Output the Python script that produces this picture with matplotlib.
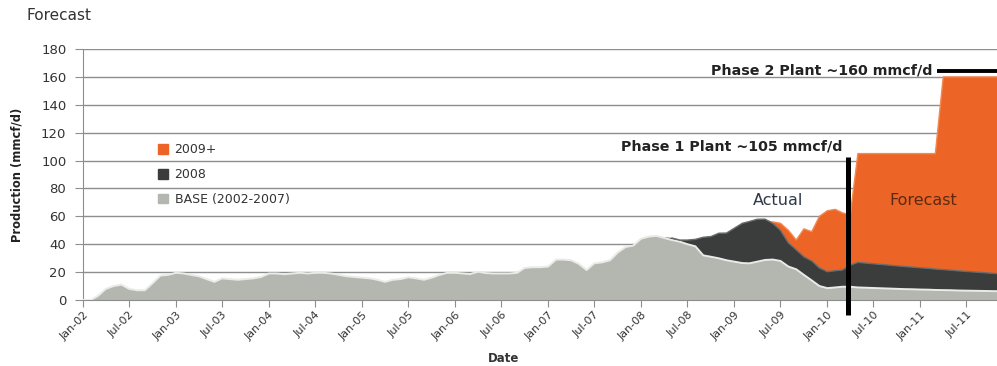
import numpy as np
import pandas as pd
import matplotlib
matplotlib.use("Agg")
import matplotlib.pyplot as plt
import matplotlib.dates as mdates
from matplotlib.patches import Patch

# monthly values, Jan-02 .. Dec-11 (mmcf/d)
base = [0, 0, 3, 8, 10, 11, 8, 7, 7, 12, 17.5, 18,
        19.5, 19, 18, 17, 15, 13, 15.5, 15, 14.5, 15, 15.5, 16.5,
        19, 19, 18.5, 19, 19.5, 19, 19.5, 19.5, 19, 18, 17, 16.5,
        16, 15.5, 14.5, 13, 14.5, 15, 16.3, 15.5, 14.5, 16, 18, 19.5,
        19.5, 19, 18.6, 20.3, 19.3, 19, 19, 19, 19.5, 23, 23.5, 23.5,
        24, 29, 29, 28.5, 26, 21.5, 26.3, 27, 28.5, 34, 38, 39,
        44, 45.5, 46, 44.5, 43, 41.8, 40, 38.5, 32, 31, 29.9, 28.5,
        27.5, 26.5, 26.3, 27.5, 28.7, 29, 28, 24, 22, 18, 14, 10,
        8.5, 9, 9.5, 9.5, 9.0, 8.8, 8.6, 8.4, 8.2, 8.0, 7.8, 7.7,
        7.5, 7.4, 7.2, 7.1, 7.0, 6.8, 6.7, 6.6, 6.5, 6.4, 6.3, 6.2]

wells_2008 = [0] * 75 + [
    0.5, 1.5, 1.2, 3, 5, 13, 14.5, 18, 19.5,
    24, 28.5, 30, 30.4, 29.3, 26, 22, 17, 14, 13, 14, 13,
    11.8, 12, 12, 15.5, 18, 17.7, 17.4, 17.1, 16.8, 16.5, 16.2, 15.9,
    15.6, 15.3, 15.0, 14.7, 14.4, 14.1, 13.8, 13.5, 13.2, 12.9, 12.6, 12.3]

wells_2009 = [0] * 89 + [
    1, 5, 9, 7, 20, 21, 37,
    43.7, 44, 41, 36, 78.0, 78.5, 79.0, 79.5, 80.0, 80.5, 81.0, 81.4,
    81.9, 82.3, 82.8, 138.2, 138.6, 139.1, 139.5, 139.9, 140.3, 140.7, 141.1, 141.5]

dates = pd.date_range("2002-01-01", periods=len(base), freq="MS")

c_base = "#B3B7AF"
c_2008 = "#3B3D3D"
c_2009 = "#EC6526"

fig = plt.figure(figsize=(9.97, 3.66), dpi=100)
ax = fig.add_axes([83 / 997, 1 - 300 / 366, 1 - 83 / 997, 251 / 366])

ax.stackplot(dates, base, wells_2008, wells_2009,
             colors=[c_base, c_2008, c_2009], lw=0, zorder=2)

# light rims along the tops of the layers
b = np.array(base)
d = b + np.array(wells_2008)
t = d + np.array(wells_2009)
ax.plot(dates, b, color="#E9EBE7", lw=1.4, zorder=3)
ax.plot(dates[76:], d[76:], color="#6A6C6C", lw=1.0, zorder=3)
ax.plot(dates[89:], t[89:], color="#F08A55", lw=1.0, zorder=3)

ax.set_ylim(0, 180)
ax.set_yticks(range(0, 181, 20))
ax.set_xlim(pd.Timestamp("2002-01-01"), pd.Timestamp("2011-10-29"))
ax.xaxis.set_major_locator(mdates.MonthLocator(bymonth=[1, 7]))
ax.xaxis.set_major_formatter(mdates.DateFormatter("%b-%y"))

ax.yaxis.grid(True, color="#8E8E8E", lw=1)
ax.set_axisbelow(True)
for s in ["top", "right"]:
    ax.spines[s].set_visible(False)
ax.spines["left"].set_color("#8E8E8E")
ax.spines["bottom"].set_color("#8E8E8E")
ax.tick_params(axis="y", length=6, color="#8E8E8E", labelsize=9.5, pad=6,
               labelcolor="#333333")
ax.tick_params(axis="x", length=5, color="#8E8E8E", labelsize=8, pad=2,
               labelcolor="#333333")
for lab in ax.get_xticklabels():
    lab.set_rotation(45)
    lab.set_ha("right")
    lab.set_rotation_mode("anchor")

fig.text(504 / 997, 1 - 358 / 366, "Date", ha="center", va="center",
         fontsize=8.5, fontweight="bold", color="#333333")
fig.text(17 / 997, 1 - 175 / 366, "Production (mmcf/d)", rotation=90,
         ha="center", va="center", fontsize=8.3, fontweight="bold",
         color="#222222")
fig.text(26 / 997, 1 - 16 / 366, "Forecast", ha="left", va="center",
         fontsize=11, color="#333333")

# plant capacity markers
ax.plot([pd.Timestamp("2010-03-23")] * 2, [-10.5, 102.5], color="black",
        lw=3.6, clip_on=False, zorder=5, solid_capstyle="butt")
ax.plot([pd.Timestamp("2011-03-08"), pd.Timestamp("2011-11-30")], [164.5, 164.5],
        color="black", lw=2.8, clip_on=False, zorder=5, solid_capstyle="butt")
ax.text(pd.Timestamp("2011-02-16"), 164.5, "Phase 2 Plant ~160 mmcf/d",
        ha="right", va="center", fontsize=10.3, fontweight="bold", color="#222222")
ax.text(pd.Timestamp("2010-02-28"), 110, "Phase 1 Plant ~105 mmcf/d",
        ha="right", va="center", fontsize=10.3, fontweight="bold", color="#222222")
ax.text(pd.Timestamp("2009-06-22"), 71, "Actual", ha="center", va="center",
        fontsize=11.5, color="#2E3848")
ax.text(pd.Timestamp("2011-01-12"), 71, "Forecast", ha="center", va="center",
        fontsize=11.5, color="#5A2A12", zorder=6)

handles = [Patch(color=c_2009), Patch(color=c_2008), Patch(color=c_base)]
labels = ["2009+", "2008", "BASE (2002-2007)"]
fig.legend(handles, labels, loc="upper left",
           bbox_to_anchor=(147 / 997, 1 - 132 / 366), frameon=False,
           fontsize=9, handlelength=0.8, handleheight=0.8, handletextpad=0.5,
           labelspacing=0.95, labelcolor="#333333")

fig.savefig("out.png", dpi=100)
